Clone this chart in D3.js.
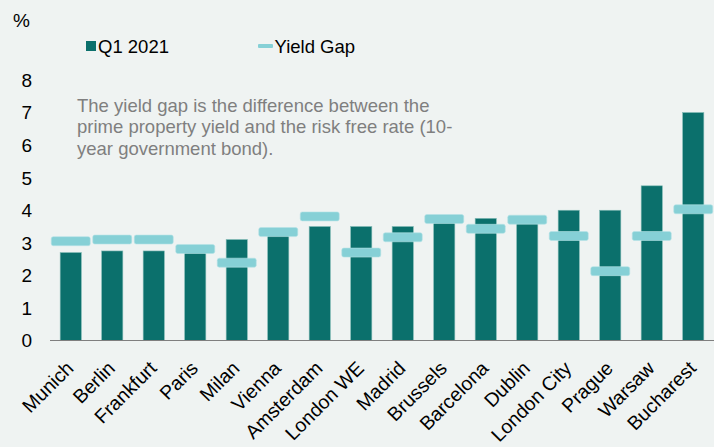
<!DOCTYPE html>
<html>
<head>
<meta charset="utf-8">
<script src="https://cdn.jsdelivr.net/npm/d3@7"></script>
<style>
  body { margin: 0; background: #eff3f2; }
  text { font-family: "Liberation Sans", Arial, sans-serif; }
</style>
</head>
<body>
<div id="chart"></div>
<script>
// Cities along the x axis
const cities = ['Munich', 'Berlin', 'Frankfurt', 'Paris', 'Milan', 'Vienna', 'Amsterdam',
  'London WE', 'Madrid', 'Brussels', 'Barcelona', 'Dublin', 'London City', 'Prague', 'Warsaw', 'Bucharest'];
// Prime yield, Q1 2021 (%)
const q1Values = [2.7, 2.75, 2.75, 2.7, 3.1, 3.25, 3.5, 3.5, 3.5, 3.65, 3.75, 3.6, 4.0, 4.0, 4.75, 7.0];
// Yield gap (%)
const gapValues = [3.05, 3.1, 3.1, 2.81, 2.39, 3.33, 3.81, 2.7, 3.17, 3.73, 3.43, 3.71, 3.21, 2.13, 3.21, 4.03];
const yTicks = [0, 1, 2, 3, 4, 5, 6, 7, 8];
const note = ['The yield gap is the difference between the',
  'prime property yield and the risk free rate (10-',
  'year government bond).'];

const width = 714, height = 447;
const margin = { top: 80, right: 0, bottom: 106, left: 50 };

const barColor = '#0b706c';
const gapColor = '#86d0d6';

const svg = d3.select('#chart').append('svg')
  .attr('width', width)
  .attr('height', height);

const x = d3.scaleBand()
  .domain(cities)
  .range([margin.left, width - margin.right])
  .paddingInner(0.49)
  .paddingOuter(0.245);

const y = d3.scaleLinear()
  .domain([0, 8])
  .range([height - margin.bottom - 0.5, margin.top]);

// y tick labels (no axis line)
svg.selectAll('.ytick')
  .data(yTicks)
  .enter()
  .append('text')
  .attr('class', 'ytick')
  .attr('x', 32)
  .attr('y', d => y(d))
  .attr('dy', '0.36em')
  .style('text-anchor', 'end')
  .style('font-size', '19px')
  .style('fill', '#000')
  .text(d => d);

svg.append('text')
  .attr('x', 13)
  .attr('y', 27)
  .style('font-size', '19px')
  .text('%');

// bars
svg.selectAll('.bar')
  .data(cities)
  .enter()
  .append('rect')
  .attr('class', 'bar')
  .attr('x', d => x(d))
  .attr('y', (d, i) => y(q1Values[i]))
  .attr('width', x.bandwidth())
  .attr('height', (d, i) => y(0) - y(q1Values[i]))
  .style('fill', barColor)
  .style('stroke', '#7fb9b5')
  .style('stroke-width', 0.6);

// baseline
svg.append('line')
  .attr('x1', margin.left)
  .attr('x2', width)
  .attr('y1', y(0))
  .attr('y2', y(0))
  .style('stroke', '#7f7f7f')
  .style('stroke-width', 1.2);

// yield gap markers
const markW = 39, markH = 9;
svg.selectAll('.gap')
  .data(cities)
  .enter()
  .append('rect')
  .attr('class', 'gap')
  .attr('x', d => x(d) + x.bandwidth() / 2 - markW / 2)
  .attr('y', (d, i) => y(gapValues[i]) - markH / 2)
  .attr('width', markW)
  .attr('height', markH)
  .attr('rx', 2)
  .style('fill', gapColor)
  .style('stroke', '#b5e3e6')
  .style('stroke-width', 0.6);

// x labels, rotated
svg.selectAll('.xlabel')
  .data(cities)
  .enter()
  .append('text')
  .attr('class', 'xlabel')
  .attr('transform', d => `translate(${x(d) + x.bandwidth() / 2 + 4},${y(0) + 29}) rotate(-45)`)
  .style('text-anchor', 'end')
  .style('font-size', '19.5px')
  .style('fill', '#000')
  .text(d => d);

// legend
svg.append('rect')
  .attr('x', 86).attr('y', 41)
  .attr('width', 10).attr('height', 10)
  .style('fill', barColor);
svg.append('text')
  .attr('x', 98).attr('y', 53)
  .style('font-size', '18.5px')
  .text('Q1 2021');
svg.append('rect')
  .attr('x', 258).attr('y', 44)
  .attr('width', 15).attr('height', 4)
  .attr('rx', 1)
  .style('fill', gapColor);
svg.append('text')
  .attr('x', 274.5).attr('y', 53)
  .style('font-size', '18.5px')
  .text('Yield Gap');

// note
svg.append('text')
  .attr('x', 77)
  .attr('y', 111.5)
  .style('font-size', '18.5px')
  .style('fill', '#7f7f7f')
  .selectAll('tspan')
  .data(note)
  .enter()
  .append('tspan')
  .attr('x', 77)
  .attr('dy', (d, i) => i === 0 ? 0 : 21.8)
  .text(d => d);
</script>
</body>
</html>
